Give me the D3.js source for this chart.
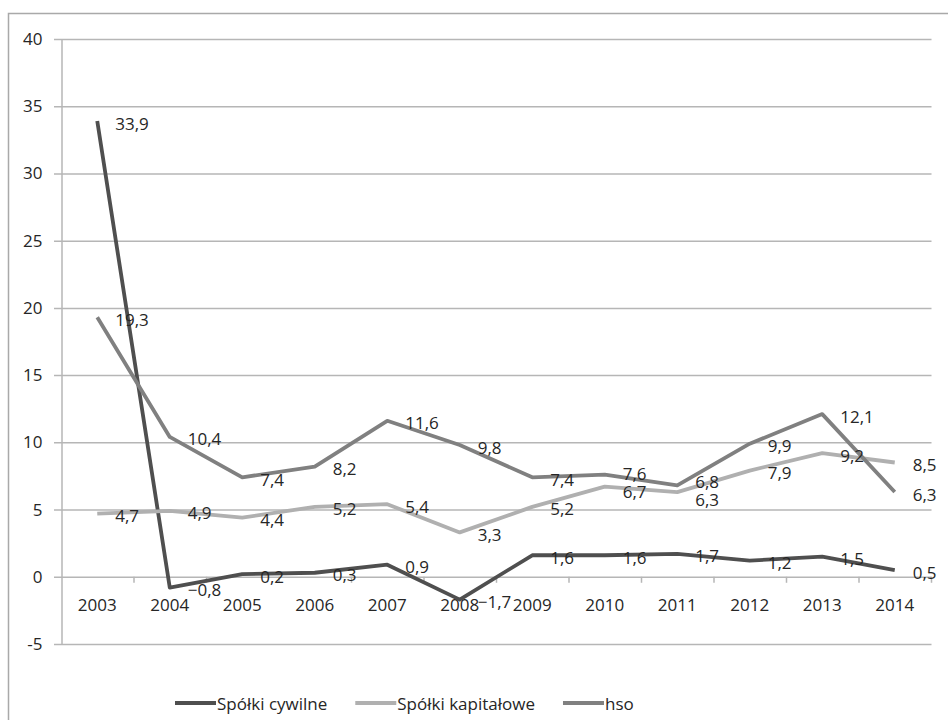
<!DOCTYPE html>
<html>
<head>
<meta charset="utf-8">
<script src="https://cdn.jsdelivr.net/npm/d3@7"></script>
<style>
  html, body { margin: 0; padding: 0; background: #fff; }
  svg { display: block; }
  text { font-family: "Open Sans", "Noto Sans", sans-serif; fill: #262626; }
</style>
</head>
<body>
<svg id="chart" width="948" height="720"></svg>
<script>
// Annual change by legal form, 2003–2014
const years = ["2003", "2004", "2005", "2006", "2007", "2008", "2009", "2010", "2011", "2012", "2013", "2014"];
const seriesNames = ["Spółki cywilne", "Spółki kapitałowe", "hso"];
const spolkiCywilne = [33.9, -0.8, 0.2, 0.3, 0.9, -1.7, 1.6, 1.6, 1.7, 1.2, 1.5, 0.5];
const spolkiKapitalowe = [4.7, 4.9, 4.4, 5.2, 5.4, 3.3, 5.2, 6.7, 6.3, 7.9, 9.2, 8.5];
const hso = [19.3, 10.4, 7.4, 8.2, 11.6, 9.8, 7.4, 7.6, 6.8, 9.9, 12.1, 6.3];
const yTicks = [-5, 0, 5, 10, 15, 20, 25, 30, 35, 40];

const seriesValues = [spolkiCywilne, spolkiKapitalowe, hso];
const seriesColors = ["#4f4f4f", "#b0b0b0", "#808080"];

const svg = d3.select("#chart");
const FONT = 17;
const gridColor = "#b6b6b6";

// outer chart frame (runs past the window edge)
svg.append("rect")
  .attr("x", 8.5).attr("y", 13.5)
  .attr("width", 1000).attr("height", 1000)
  .attr("fill", "none").attr("stroke", "#a9a9a9").attr("stroke-width", 1.5);

const x = d3.scaleBand().domain(years).range([61, 931]).padding(0);
const y = d3.scaleLinear().domain([-5, 40]).range([644, 39]);

// y axis with horizontal gridlines
const yAxis = svg.append("g")
  .attr("transform", "translate(61.5,0)")
  .call(d3.axisLeft(y)
    .tickValues(yTicks)
    .tickSizeInner(-(931 - 61))
    .tickSizeOuter(0)
    .tickPadding(19)
    .tickFormat(d => String(d)));
yAxis.selectAll(".tick line")
  .attr("x1", -7.5)
  .attr("stroke", gridColor).attr("stroke-width", 1.5);
yAxis.select(".domain").attr("stroke", gridColor).attr("stroke-width", 1.5);
yAxis.selectAll(".tick text")
  .attr("font-size", FONT).attr("font-family", null).attr("fill", "#262626");

// category axis sitting on the zero line
const xAxis = svg.append("g")
  .attr("transform", `translate(0,${y(0)})`)
  .call(d3.axisBottom(x).tickSize(0).tickPadding(22));
xAxis.select(".domain").remove();
xAxis.selectAll(".tick text")
  .attr("font-size", FONT).attr("font-family", null).attr("fill", "#262626");

// tick marks between categories
const boundaries = years.map(d => x(d)).concat([x.range()[1]]).slice(1);
svg.append("g").selectAll("line")
  .data(boundaries)
  .join("line")
  .attr("x1", d => d + 0.5).attr("x2", d => d + 0.5)
  .attr("y1", y(0)).attr("y2", y(0) + 6)
  .attr("stroke", gridColor).attr("stroke-width", 1.5);

// series lines
const cx = d => x(d) + x.bandwidth() / 2;
const line = d3.line()
  .x((v, i) => cx(years[i]))
  .y(v => y(v));

svg.append("g").selectAll("path")
  .data(seriesValues)
  .join("path")
  .attr("d", d => line(d))
  .attr("fill", "none")
  .attr("stroke", (d, i) => seriesColors[i])
  .attr("stroke-width", 3.8)
  .attr("stroke-linejoin", "round");

// data labels to the right of each point; labels of the same year
// that would collide are pushed apart vertically
const fmt = d3.formatLocale({ decimal: ",", thousands: " ", grouping: [3], currency: ["", ""], minus: "\u2212" }).format(".1f");
const MIN_GAP = 18;
const labelData = [];
years.forEach((yr, i) => {
  const group = seriesValues.map(vals => ({ yr, v: vals[i], ly: y(vals[i]) + 2 }))
    .sort((a, b) => a.ly - b.ly);
  for (let k = 1; k < group.length; k++) {
    const a = group[k - 1], b = group[k];
    const gap = b.ly - a.ly;
    if (gap < MIN_GAP) {
      const mid = (a.ly + b.ly) / 2;
      a.ly = mid - MIN_GAP / 2;
      b.ly = mid + MIN_GAP / 2;
    }
  }
  labelData.push(...group);
});

svg.append("g").selectAll("text")
  .data(labelData)
  .join("text")
  .attr("x", d => cx(d.yr) + 18)
  .attr("y", d => d.ly)
  .attr("dominant-baseline", "central")
  .attr("font-size", FONT)
  .text(d => fmt(d.v));

// legend
const legend = svg.append("g").attr("transform", "translate(0,703)");
let lx = 175;
seriesNames.forEach((name, i) => {
  legend.append("line")
    .attr("x1", lx).attr("x2", lx + 41)
    .attr("y1", 0).attr("y2", 0)
    .attr("stroke", seriesColors[i]).attr("stroke-width", 4);
  const t = legend.append("text")
    .attr("x", lx + 42)
    .attr("y", 0)
    .attr("dominant-baseline", "central")
    .attr("font-size", FONT)
    .text(name);
  lx += 42 + t.node().getComputedTextLength() + 28;
});
</script>
</body>
</html>
